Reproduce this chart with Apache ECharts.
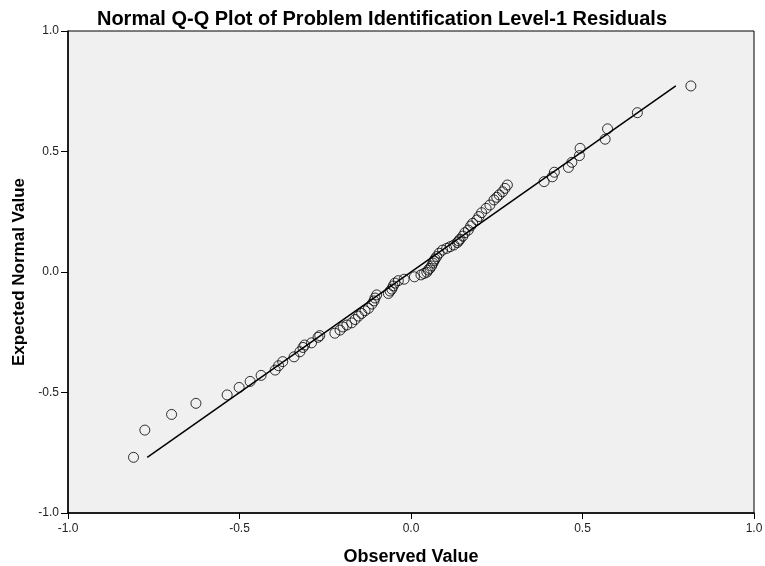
<!DOCTYPE html>
<html><head><meta charset="utf-8">
<script src="https://cdn.jsdelivr.net/npm/echarts@6/dist/echarts.min.js"></script>
<style>html,body{margin:0;padding:0;background:#fff}#c{width:765px;height:566px}</style>
</head><body><div id="c"></div>
<script>
const observed = [-0.809,-0.776,-0.698,-0.627,-0.536,-0.501,-0.469,-0.437,-0.396,-0.386,-0.374,-0.341,-0.324,-0.315,-0.310,-0.290,-0.271,-0.266,-0.222,-0.207,-0.198,-0.187,-0.173,-0.163,-0.153,-0.144,-0.134,-0.124,-0.114,-0.108,-0.105,-0.100,-0.066,-0.061,-0.056,-0.052,-0.047,-0.037,-0.020,0.010,0.029,0.038,0.046,0.050,0.055,0.060,0.064,0.067,0.070,0.075,0.082,0.092,0.104,0.114,0.125,0.135,0.139,0.143,0.151,0.157,0.167,0.174,0.180,0.192,0.198,0.206,0.219,0.230,0.242,0.250,0.257,0.267,0.274,0.281,0.388,0.412,0.418,0.459,0.469,0.491,0.493,0.566,0.573,0.660,0.816];
const expected = [-0.769,-0.656,-0.591,-0.545,-0.510,-0.479,-0.454,-0.429,-0.407,-0.389,-0.372,-0.352,-0.331,-0.313,-0.303,-0.294,-0.271,-0.264,-0.254,-0.241,-0.228,-0.220,-0.211,-0.197,-0.183,-0.172,-0.161,-0.151,-0.133,-0.120,-0.108,-0.095,-0.089,-0.079,-0.071,-0.058,-0.046,-0.036,-0.030,-0.020,-0.012,-0.006,-0.001,0.008,0.015,0.025,0.037,0.046,0.054,0.064,0.078,0.091,0.098,0.105,0.112,0.122,0.129,0.136,0.149,0.163,0.174,0.191,0.202,0.216,0.230,0.246,0.264,0.278,0.299,0.310,0.320,0.333,0.347,0.361,0.375,0.395,0.414,0.434,0.455,0.483,0.513,0.551,0.594,0.661,0.772];
const refLine = [[-0.769,-0.769],[0.772,0.772]];
const titleText = 'Normal Q-Q Plot of Problem Identification Level-1 Residuals';
const xName = 'Observed Value';
const yName = 'Expected Normal Value';

const chart = echarts.init(document.getElementById('c'));
const pts = observed.map((v,i)=>[v, expected[i]]);
const fnt = 'Arial, "Liberation Sans", sans-serif';
chart.setOption({
  animation:false,
  backgroundColor:'#fff',
  title:{text:titleText,left:377,top:4,textAlign:'center',
    textStyle:{fontFamily:fnt,fontSize:20,fontWeight:'bold',color:'#000'}},
  grid:{left:68,right:11,top:31,bottom:53,outerBoundsMode:'none',containLabel:false,show:true,backgroundColor:'#f0f0f0',borderColor:'#000',borderWidth:1},
  xAxis:{type:'value',min:-1,max:1,interval:0.5,
    name:xName,nameLocation:'middle',nameGap:35,
    nameTextStyle:{fontFamily:fnt,fontSize:18,fontWeight:'bold',color:'#000'},
    axisLine:{onZero:false,lineStyle:{color:'#000',width:1.5}},
    axisTick:{show:true,length:6,lineStyle:{color:'#000'}},
    axisLabel:{fontFamily:fnt,fontSize:12,color:'#222',margin:10,formatter:v=>v.toFixed(1)},
    splitLine:{show:false}},
  yAxis:{type:'value',min:-1,max:1,interval:0.5,
    name:yName,nameLocation:'middle',nameGap:40,
    nameTextStyle:{fontFamily:fnt,fontSize:17,fontWeight:'bold',color:'#000'},
    axisLine:{onZero:false,lineStyle:{color:'#000',width:1.5}},
    axisTick:{show:true,length:7,lineStyle:{color:'#000'}},
    axisLabel:{fontFamily:fnt,fontSize:12,color:'#222',margin:9,formatter:v=>v.toFixed(1)},
    splitLine:{show:false}},
  series:[
    {type:'line',data:refLine,symbol:'none',lineStyle:{color:'#000',width:1.5},silent:true},
    {type:'scatter',data:pts,symbol:'circle',symbolSize:10,
      itemStyle:{color:'rgba(0,0,0,0)',borderColor:'#000',borderWidth:1}}
  ]
});
</script></body></html>
